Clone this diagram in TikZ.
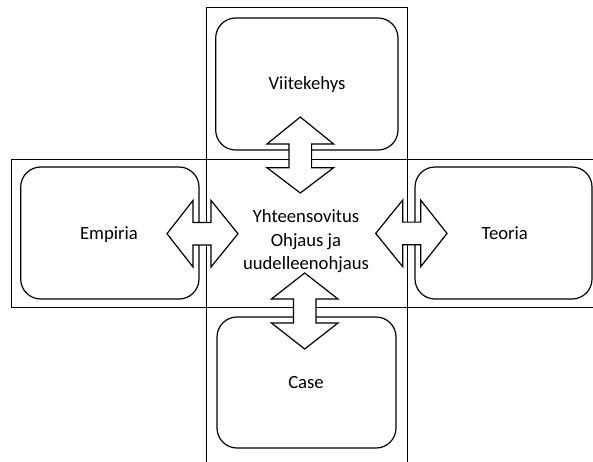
\documentclass[tikz,border=0pt]{standalone}
\usepackage{fontspec}
\setmainfont{Carlito}
% vertical double block arrow: centre x, tip, head base, head base, tip
\newcommand\vdblarrow[5]{%
  \draw[blockarrow] (#1,#2) -- ({#1+33.3},#3) -- ({#1+11.3},#3) -- ({#1+11.3},#4)
    -- ({#1+33.3},#4) -- (#1,#5) -- ({#1-33.3},#4) -- ({#1-11.3},#4)
    -- ({#1-11.3},#3) -- ({#1-33.3},#3) -- cycle;}
% horizontal double block arrow: centre y, tip, head base, head base, tip
\newcommand\hdblarrow[5]{%
  \draw[blockarrow] (#2,#1) -- (#3,{#1-33.3}) -- (#3,{#1-11.3}) -- (#4,{#1-11.3})
    -- (#4,{#1-33.3}) -- (#5,#1) -- (#4,{#1+33.3}) -- (#4,{#1+11.3})
    -- (#3,{#1+11.3}) -- (#3,{#1+33.3}) -- cycle;}
\begin{document}
\begin{tikzpicture}[x=0.75pt,y=-0.75pt,
  frame/.style={draw=black, line width=0.6pt},
  box/.style={draw=black, line width=0.9pt, rounded corners=15pt},
  blockarrow/.style={draw=black, fill=white, line width=0.9pt, line join=miter},
  label/.style={font=\fontsize{14}{17.6}\selectfont, inner sep=0pt, anchor=base}]
\useasboundingbox (0,0) rectangle (593,461);
\clip (0,0) rectangle (593,461);
% cross-shaped frame: one column and one row
\draw[frame] (206.7,7) rectangle (407,475);
\draw[frame] (11.7,159.3) rectangle (610,307);
% rounded boxes
\draw[box] (215.7,18) rectangle (398,150);
\draw[box] (20.7,167) rectangle (199,299);
\draw[box] (415,167) rectangle (592,299);
\draw[box] (217,317) rectangle (396,448);
% double arrows between the boxes and the centre
\vdblarrow{300.3}{117}{144}{167.7}{193}
\vdblarrow{304.7}{273}{299}{323}{349}
\hdblarrow{233.7}{167}{193}{211}{238}
\hdblarrow{233.4}{375.7}{402.7}{420.7}{447}
% labels
\node[label] (viite) at (307,89) {Viitekehys};
\node[label] (empiria) at (109,239.5) {Empiria};
\node[label] (teoria) at (504.7,239.5) {Teoria};
\node[label] (case) at (306,388) {Case};
\node[label, align=center] (centre) at (306,269.5) {Yhteensovitus\\Ohjaus ja\\uudelleenohjaus};
\end{tikzpicture}
\end{document}
